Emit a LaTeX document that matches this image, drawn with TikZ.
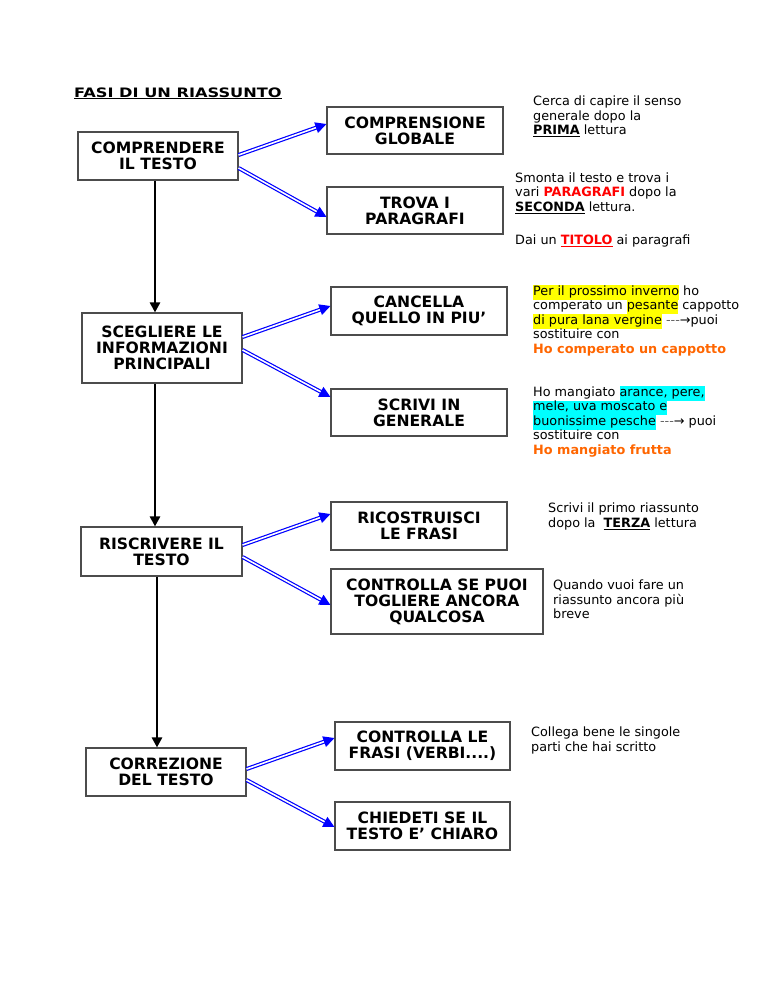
\documentclass[tikz,border=0pt]{standalone}
\usepackage{fontspec}
\setmainfont{DejaVu Sans}
\usetikzlibrary{arrows.meta}
\definecolor{orng}{RGB}{255,102,0}
\definecolor{hlcyan}{RGB}{0,255,255}
\definecolor{hlyel}{RGB}{255,255,0}
\definecolor{pureblue}{RGB}{0,0,255}
\newcommand\hly[1]{{\setlength{\fboxsep}{0pt}\colorbox{hlyel}{\strut #1}}}
\newcommand\hlc[1]{{\setlength{\fboxsep}{0pt}\colorbox{hlcyan}{\strut #1}}}
\newcommand\dsh{-{}-{}-}
\begin{document}
\begin{tikzpicture}[x=1pt,y=-1pt,
 box/.style={draw=black!70, line width=1.1pt, inner sep=0pt, align=center,
   font=\fontsize{15.6}{16}\selectfont\bfseries},
 note/.style={anchor=north west, inner sep=0pt, align=left,
   font=\fontsize{12.8}{14.5}\selectfont, execute at begin node=\strut},
 down/.style={line width=2.4pt, -{Triangle[length=10pt,width=10pt]}},
 blu/.style={draw=pureblue, double=white, line width=1.2pt, double distance=1.6pt,
   -{Triangle[length=11pt,width=11pt]}}]
\useasboundingbox (0,0) rectangle (768,994);
\fill[white] (0,0) rectangle (768,994);

\node[anchor=base west, inner sep=0pt, font=\fontsize{13}{15}\selectfont\bfseries] (title) at (74,97) {\underline{\scalebox{1.245}[1]{FASI DI UN RIASSUNTO}}};

% left boxes
\node[box, minimum width=160pt, minimum height=48pt] (b1) at (158,156) {COMPRENDERE\\IL TESTO};
\node[box, minimum width=160pt, minimum height=70pt] (b2) at (162,348) {SCEGLIERE LE\\INFORMAZIONI\\PRINCIPALI};
\node[box, minimum width=161pt, minimum height=49pt] (b3) at (161.5,551.5) {RISCRIVERE IL\\TESTO};
\node[box, minimum width=160pt, minimum height=48pt] (b4) at (166,772) {CORREZIONE\\DEL TESTO};

% right boxes
\node[box, minimum width=176pt, minimum height=47pt] (r1) at (415,130.5) {COMPRENSIONE\\GLOBALE};
\node[box, minimum width=176pt, minimum height=47pt] (r2) at (415,210.5) {TROVA I\\PARAGRAFI};
\node[box, minimum width=176pt, minimum height=48pt] (r3) at (419,311) {CANCELLA\\QUELLO IN PIU’};
\node[box, minimum width=176pt, minimum height=47pt] (r4) at (419,412.5) {SCRIVI IN\\GENERALE};
\node[box, minimum width=176pt, minimum height=48pt] (r5) at (419,526) {RICOSTRUISCI\\LE FRASI};
\node[box, minimum width=212pt, minimum height=65pt] (r6) at (437,601.5) {CONTROLLA SE PUOI\\TOGLIERE ANCORA\\QUALCOSA};
\node[box, minimum width=175pt, minimum height=48pt] (r7) at (422.5,746) {CONTROLLA LE\\FRASI (VERBI....)};
\node[box, minimum width=175pt, minimum height=48pt] (r8) at (422.5,826) {CHIEDETI SE IL\\TESTO E’ CHIARO};

% vertical arrows
\coordinate (ax) at (155,0);
\coordinate (bx) at (157,0);
\draw[down] (b1.south -| ax) -- (b2.north -| ax);
\draw[down] (b2.south -| ax) -- (b3.north -| ax);
\draw[down] (b3.south -| bx) -- (b4.north -| bx);

% blue arrows
\draw[blu] ([yshift=1pt]b1.east) -- ([yshift=6.5pt]r1.west);
\draw[blu] ([yshift=-12pt]b1.east) -- ([yshift=-6.5pt]r2.west);
\draw[blu] ([yshift=11pt]b2.east) -- ([yshift=5pt]r3.west);
\draw[blu] ([yshift=-2pt]b2.east) -- ([yshift=15.5pt]r4.west);
\draw[blu] ([yshift=6.5pt]b3.east) -- ([yshift=12pt]r5.west);
\draw[blu] ([yshift=-5.5pt]b3.east) -- ([yshift=-3.5pt]r6.west);
\draw[blu] ([yshift=3pt]b4.east) -- ([yshift=8pt]r7.west);
\draw[blu] ([yshift=-8pt]b4.east) -- ([yshift=-1pt]r8.west);

% notes
\node[note] (t1) at (533,96) {Cerca di capire il senso\\generale dopo la\\\textbf{\underline{PRIMA}} lettura};
\node[note] (t2) at (515,172.4) {Smonta il testo e trova i\\vari \textbf{\textcolor{red}{PARAGRAFI}} dopo la\\\textbf{\underline{SECONDA}} lettura.};
\node[note] (t3) at (515,233.9) {Dai un \textbf{\textcolor{red}{\underline{TITOLO}}} ai paragrafi};
\node[note] (t4) at (533,284.9) {\hly{Per il prossimo inverno} ho\\comperato un \hly{pesante} cappotto\\\hly{di pura lana vergine} \textcolor{black!60}{\dsh}→puoi\\sostituire con\\\textbf{\textcolor{orng}{Ho comperato un cappotto}}};
\node[note] (t5) at (533,385.9) {Ho mangiato \hlc{arance, pere,}\\\hlc{mele, uva moscato e}\\\hlc{buonissime pesche} \textcolor{black!60}{\dsh}→ puoi\\sostituire con\\\textbf{\textcolor{orng}{Ho mangiato frutta}}};
\node[note] (t6) at (548,502.9) {Scrivi il primo riassunto\\dopo la~ \textbf{\underline{TERZA}} lettura};
\node[note] (t7) at (553,579.9) {Quando vuoi fare un\\riassunto ancora più\\breve};
\node[note] (t8) at (531,726.9) {Collega bene le singole\\parti che hai scritto};
\end{tikzpicture}
\end{document}
